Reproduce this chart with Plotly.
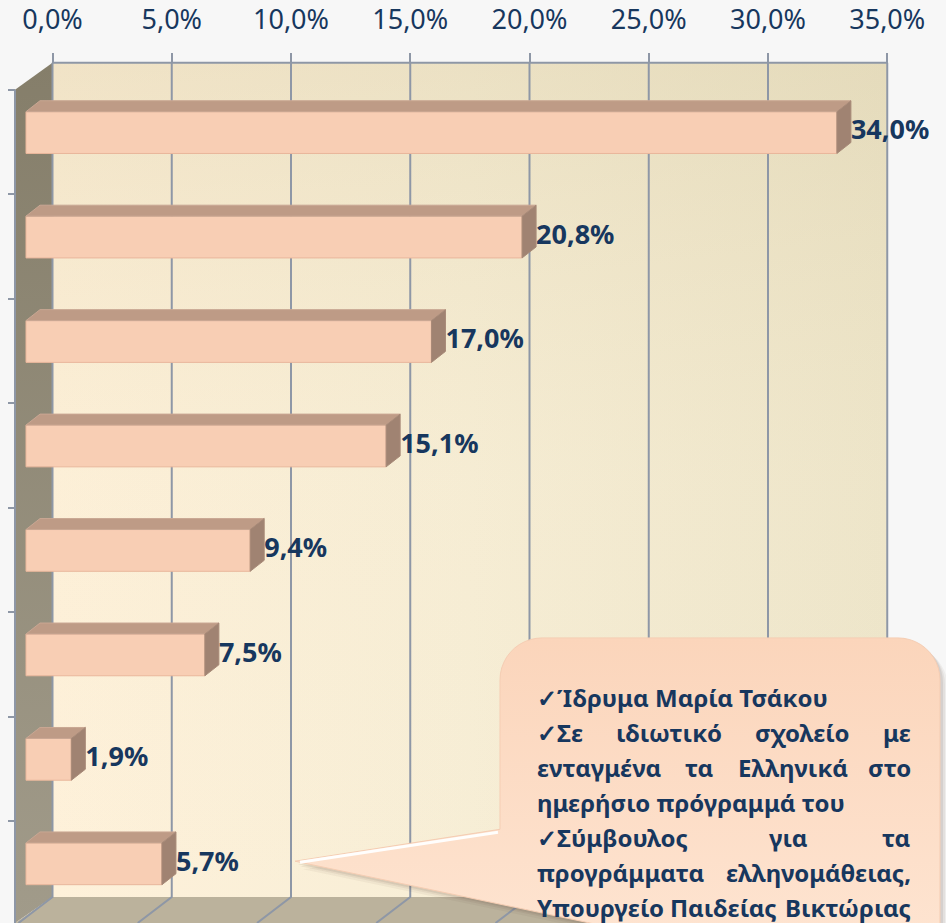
import numpy as np
import plotly.graph_objects as go

# ---------------- data ----------------
categories = ["1", "2", "3", "4", "5", "6", "7", "8"]          # unlabeled rows (top -> bottom)
values = [34.0, 20.8, 17.0, 15.1, 9.4, 7.5, 1.9, 5.7]           # percent
tick_values = [0, 5, 10, 15, 20, 25, 30, 35]                    # top axis ticks (%)
tick_labels = [f"{t:.1f}".replace(".", ",") + "%" for t in tick_values]
callout_lines = [
    ("left", ["✓Ίδρυμα Μαρία Τσάκου"]),
    ("justify", ["✓Σε", "ιδιωτικό", "σχολείο", "με"]),
    ("justify", ["ενταγμένα", "τα", "Ελληνικά", "στο"]),
    ("left", ["ημερήσιο πρόγραμμά του"]),
    ("justify", ["✓Σύμβουλος", "για", "τα"]),
    ("justify", ["προγράμματα", "ελληνομάθειας,"]),
    ("justify", ["Υπουργείο", "Παιδείας", "Βικτώριας"]),
]

# ---------------- geometry / style ----------------
W, H = 946, 923
S = 23.85      # px per percent
T = 104.8      # px per row
BACK_X0 = 52.5  # px of 0% on back wall
FRONT_X0 = 26.0  # px of 0% on front plane
ROW0 = 130.0     # px of first row centre
DX = 14 / S      # depth offset (percent units)
DY = 11 / T      # depth offset (row units)
BW = 0.4         # bar thickness (row units)
NAVY = "#17375E"
GRID = "#8E97A6"
FONT = "Noto Sans"

ypos = list(range(len(values)))

fig = go.Figure()

# ---- base subplot (x: back-plane %, y: pixels) : walls, floor, grid ----
def bx(px):
    return (px - BACK_X0) / S

xmax = tick_values[-1]
# back wall
fig.add_trace(go.Scatter(x=[0, xmax, xmax, 0, 0], y=[60, 60, 897, 897, 60], mode="lines",
                         fill="toself", line=dict(width=0), hoverinfo="skip",
                         fillgradient=dict(type="horizontal",
                                           colorscale=[[0, "#FEF1DA"], [0.5, "#F7EED6"], [1, "#EEE6CB"]])))
fig.add_trace(go.Scatter(x=[0, xmax, xmax, 0, 0], y=[60, 60, 897, 897, 60], mode="lines",
                         fill="toself", line=dict(width=0), hoverinfo="skip",
                         fillgradient=dict(type="vertical",
                                           colorscale=[[0, "rgba(220,205,160,0)"], [0.5, "rgba(220,205,160,0.05)"],
                                                       [1, "rgba(200,185,140,0.25)"]])))
# left wall
fig.add_trace(go.Scatter(x=[bx(15), 0, 0, bx(15), bx(15)], y=[87, 60, 897, 923, 87], mode="lines",
                         fill="toself", line=dict(width=0), hoverinfo="skip",
                         fillgradient=dict(type="vertical", colorscale=[[0, "#A19B8A"], [1, "#857E6A"]])))
# floor
fig.add_trace(go.Scatter(x=[0, xmax, xmax - 37 / S, bx(15), 0], y=[897, 897, 923, 923, 897], mode="lines",
                         fill="toself", fillcolor="#BBB29C", line=dict(width=0), hoverinfo="skip"))
# grid lines (back wall + floor)
gx, gy = [], []
for t in tick_values:
    gx += [t, t, t - 34 / S, None]
    gy += [60, 897, 923, None]
fig.add_trace(go.Scatter(x=gx, y=gy, mode="lines", line=dict(color=GRID, width=2), hoverinfo="skip"))
# top edge & left axis line
fig.add_trace(go.Scatter(x=[0, xmax, None, bx(15), bx(15)], y=[60, 60, None, 87, 923], mode="lines",
                         line=dict(color=GRID, width=2), hoverinfo="skip"))

# ---- bar subplot (x: front-plane %, y: row index) ----
fig.add_trace(go.Bar(x=values, y=ypos, orientation="h", width=BW, xaxis="x2", yaxis="y2",
                     marker=dict(color="#F8CEB4", line=dict(color="#E9B79C", width=1)),
                     hoverinfo="skip"))
topx, topy, sidex, sidey = [], [], [], []
for v, i in zip(values, ypos):
    y0 = i - BW / 2
    y1 = i + BW / 2
    topx += [0, v, v + DX, DX, 0, None]
    topy += [y0, y0, y0 - DY, y0 - DY, y0, None]
    sidex += [v, v + DX, v + DX, v, v, None]
    sidey += [y0, y0 - DY, y1 - DY, y1, y0, None]
fig.add_trace(go.Scatter(x=topx, y=topy, mode="lines", fill="toself", fillcolor="#BE9B86",
                         line=dict(color="#C9A793", width=1), xaxis="x2", yaxis="y2", hoverinfo="skip"))
fig.add_trace(go.Scatter(x=sidex, y=sidey, mode="lines", fill="toself", fillcolor="#A08372",
                         line=dict(color="#A88A78", width=1), xaxis="x2", yaxis="y2", hoverinfo="skip"))
fig.add_trace(go.Scatter(x=[v + DX for v in values], y=ypos, mode="text", customdata=values,
                         texttemplate="%{customdata:.1f}%", textposition="middle right",
                         textfont=dict(family=FONT, size=27, color=NAVY, weight="bold"),
                         xaxis="x2", yaxis="y2", hoverinfo="skip"))

# ---- callout subplot (pixel coordinates) ----
def rounded_box(x0, y0, x1, y1, r, tip):
    pts = [tip, (x0, 829)]
    def arc(cx, cy, a0, a1):
        return [(cx + r * np.cos(a), cy + r * np.sin(a)) for a in np.linspace(a0, a1, 12)]
    pts += arc(x0 + r, y0 + r, np.pi, 1.5 * np.pi)
    pts += arc(x1 - r, y0 + r, 1.5 * np.pi, 2 * np.pi)
    pts += [(x1, y1), (766, y1), tip]
    return [p[0] for p in pts], [p[1] for p in pts]

cx, cy = rounded_box(500, 637, 940, 960, 42, (295, 861))
for off, a in [(8, 0.05), (5, 0.07), (3, 0.09)]:
    fig.add_trace(go.Scatter(x=[x + off for x in cx], y=[y + off for y in cy], mode="lines", fill="toself",
                             fillcolor=f"rgba(80,60,40,{a})", line=dict(width=0),
                             xaxis="x3", yaxis="y3", hoverinfo="skip"))
fig.add_trace(go.Scatter(x=cx, y=cy, mode="lines", fill="toself", line=dict(color="#F5CDB3", width=1),
                         fillgradient=dict(type="vertical", colorscale=[[0, "#FEE5D2"], [1, "#FBD5BB"]]),
                         xaxis="x3", yaxis="y3", hoverinfo="skip"))
fig.add_trace(go.Scatter(x=[300, 498], y=[862, 832], mode="lines", line=dict(color="rgba(255,255,255,0.95)", width=3),
                         xaxis="x3", yaxis="y3", hoverinfo="skip"))

annotations = []
TX0, TX1 = 535, 913
line_y = [697, 732, 767, 802, 837, 872, 907]
word_centres = {1: [669, 802], 2: [699, 793], 4: [788], 6: [723]}
tfont = dict(family=FONT, size=24, color=NAVY, weight="bold")
for k, ((mode, words), yy) in enumerate(zip(callout_lines, line_y)):
    annotations.append(dict(x=TX0, y=yy, xref="x3", yref="y3", text=words[0], showarrow=False,
                            xanchor="left", yanchor="middle", font=tfont))
    if mode == "justify":
        annotations.append(dict(x=TX1, y=yy, xref="x3", yref="y3", text=words[-1], showarrow=False,
                                xanchor="right", yanchor="middle", font=tfont))
        for w, c in zip(words[1:-1], word_centres.get(k, [])):
            annotations.append(dict(x=c, y=yy, xref="x3", yref="y3", text=w, showarrow=False,
                                    xanchor="center", yanchor="middle", font=tfont))

fig.update_layout(
    width=W, height=H, autosize=False,
    margin=dict(l=0, r=0, t=0, b=0),
    paper_bgcolor="#F7F7F7", plot_bgcolor="rgba(0,0,0,0)",
    showlegend=False, separators=",.",
    annotations=annotations,
    xaxis=dict(range=[-BACK_X0 / S, (W - BACK_X0) / S], anchor="free", position=1 - 60 / H, side="top",
               tickmode="array", tickvals=tick_values, ticktext=tick_labels,
               ticks="outside", ticklen=10, tickwidth=2, tickcolor=GRID, ticklabelstandoff=13,
               tickfont=dict(family=FONT, size=27, color=NAVY),
               showgrid=False, zeroline=False, showline=False, fixedrange=True),
    yaxis=dict(range=[H, 0], anchor="free", position=15 / W,
               tickmode="array", tickvals=[ROW0 + T * (k - 0.41) for k in ypos],
               ticks="outside", ticklen=7, tickwidth=2, tickcolor=GRID, showticklabels=False,
               showgrid=False, zeroline=False, showline=False, fixedrange=True),
    xaxis2=dict(range=[-FRONT_X0 / S, (W - FRONT_X0) / S], overlaying="x", visible=False, fixedrange=True),
    yaxis2=dict(range=[(H - ROW0) / T, -ROW0 / T], overlaying="y", visible=False, fixedrange=True,
                tickvals=ypos, ticktext=categories),
    xaxis3=dict(range=[0, W], overlaying="x", visible=False, fixedrange=True),
    yaxis3=dict(range=[H, 0], overlaying="y", visible=False, fixedrange=True),
)

fig.write_html("out.html", config={"displayModeBar": False},
               post_script="document.body.style.margin='0';document.body.style.background='#F7F7F7';"
                           "document.documentElement.style.overflow='hidden';")
